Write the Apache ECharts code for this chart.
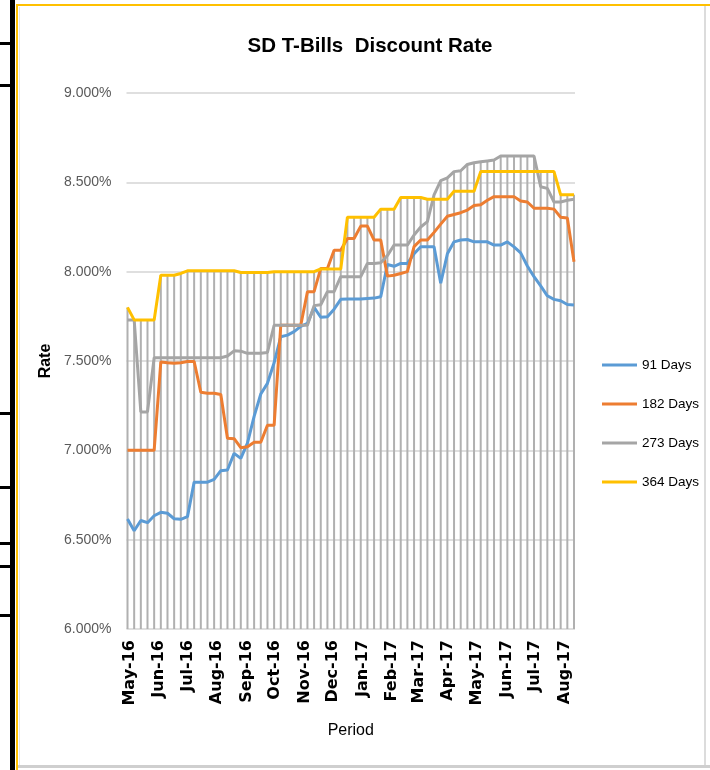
<!DOCTYPE html>
<html>
<head>
<meta charset="utf-8">
<script src="https://cdn.jsdelivr.net/npm/echarts@6/dist/echarts.min.js"></script>
<style>
html,body{margin:0;padding:0;background:#fff;}
#chart{width:710px;height:770px;}
</style>
</head>
<body>
<div id="chart"></div>
<script>
const dates = [
'2016-04-29','2016-05-06','2016-05-13','2016-05-20','2016-05-27','2016-06-03','2016-06-10','2016-06-17','2016-06-24',
'2016-07-01','2016-07-08','2016-07-15','2016-07-22','2016-07-29','2016-08-05','2016-08-12','2016-08-19','2016-08-26',
'2016-09-02','2016-09-09','2016-09-16','2016-09-23','2016-09-30','2016-10-07','2016-10-14','2016-10-21','2016-10-28',
'2016-11-04','2016-11-11','2016-11-18','2016-11-25','2016-12-02','2016-12-09','2016-12-16','2016-12-23','2016-12-30',
'2017-01-06','2017-01-13','2017-01-20','2017-01-27','2017-02-03','2017-02-10','2017-02-17','2017-02-24',
'2017-03-03','2017-03-10','2017-03-17','2017-03-24','2017-03-31','2017-04-07','2017-04-14','2017-04-21','2017-04-28',
'2017-05-05','2017-05-12','2017-05-19','2017-05-26','2017-06-02','2017-06-09','2017-06-16','2017-06-23','2017-06-30',
'2017-07-07','2017-07-14','2017-07-21','2017-07-28','2017-08-04','2017-08-11'
];
const days91 = [
6.615,6.55,6.607,6.595,6.634,6.653,6.648,6.617,6.614,6.629,
6.822,6.822,6.822,6.837,6.886,6.89,6.983,6.955,7.04,7.19,
7.315,7.375,7.49,7.636,7.645,7.664,7.694,7.71,7.80,7.745,
7.748,7.79,7.845,7.847,7.847,7.847,7.85,7.852,7.86,8.04,
8.03,8.046,8.046,8.10,8.14,8.14,8.14,7.935,8.10,8.167,
8.177,8.18,8.167,8.167,8.167,8.149,8.149,8.167,8.139,8.105,
8.032,7.972,7.92,7.865,7.845,7.837,7.816,7.813
];
const days182 = [
7.0,7.0,7.0,7.0,7.0,7.495,7.49,7.488,7.49,7.497,
7.497,7.325,7.32,7.32,7.312,7.068,7.065,7.015,7.02,7.045,
7.045,7.14,7.14,7.70,7.70,7.70,7.70,7.888,7.888,8.018,
8.018,8.12,8.12,8.186,8.186,8.255,8.255,8.177,8.177,7.975,
7.98,7.99,8.0,8.14,8.177,8.177,8.22,8.266,8.31,8.32,
8.33,8.345,8.37,8.375,8.40,8.42,8.42,8.42,8.42,8.395,
8.39,8.355,8.355,8.355,8.35,8.305,8.30,8.055
];
const days273 = [
7.73,7.73,7.215,7.215,7.518,7.518,7.518,7.518,7.518,7.518,
7.518,7.518,7.518,7.518,7.518,7.528,7.557,7.555,7.543,7.543,
7.543,7.548,7.70,7.70,7.70,7.70,7.70,7.70,7.81,7.815,
7.888,7.888,7.972,7.972,7.972,7.972,8.046,8.046,8.05,8.09,
8.149,8.149,8.149,8.205,8.25,8.28,8.43,8.51,8.525,8.56,
8.565,8.60,8.61,8.615,8.62,8.625,8.647,8.647,8.647,8.647,
8.647,8.647,8.475,8.466,8.39,8.39,8.40,8.405
];
const days364 = [
7.80,7.73,7.73,7.73,7.73,7.98,7.98,7.98,7.99,8.005,
8.005,8.005,8.005,8.005,8.005,8.005,8.005,7.995,7.995,7.995,
7.995,7.995,8.00,8.00,8.00,8.00,8.00,8.00,8.00,8.015,
8.015,8.015,8.015,8.305,8.305,8.305,8.305,8.305,8.35,8.35,
8.35,8.415,8.415,8.415,8.415,8.405,8.405,8.405,8.405,8.45,
8.45,8.45,8.45,8.56,8.56,8.56,8.56,8.56,8.56,8.56,
8.56,8.56,8.56,8.56,8.56,8.43,8.43,8.43
];
const seriesNames = ['91 Days','182 Days','273 Days','364 Days'];
const monthNames = ['Jan','Feb','Mar','Apr','May','Jun','Jul','Aug','Sep','Oct','Nov','Dec'];
const yTicks = {min: 6, max: 9, step: 0.5};

const allSeries = [days91, days182, days273, days364];
const pairs = arr => dates.map((d, i) => [d, arr[i]]);
const dropTops = dates.map((d, i) => [d, Math.max(...allSeries.map(s => s[i]))]);

const SANS = '"Liberation Sans Narrow", "Liberation Sans", sans-serif';
const colors = ['#5b9bd5', '#ed7d31', '#a5a5a5', '#ffc000'];

const chart = echarts.init(document.getElementById('chart'), null, {renderer: 'canvas'});
chart.setOption({
  animation: false,
  backgroundColor: '#ffffff',
  title: {
    text: 'SD T-Bills  Discount Rate',
    left: 365, top: 31, textAlign: 'center',
    textStyle: {fontFamily: SANS, fontSize: 20.5, fontWeight: 'bold', color: '#000'}
  },
  legend: {
    data: seriesNames,
    orient: 'vertical',
    left: 597, top: 352,
    icon: 'rect',
    itemWidth: 35, itemHeight: 3,
    itemGap: 23,
    textStyle: {fontFamily: SANS, fontSize: 13.5, lineHeight: 16, color: '#000'}
  },
  grid: {left: 126.5, top: 93, width: 448.5, height: 536, containLabel: false},
  xAxis: {
    type: 'time',
    min: dates[0], max: dates[dates.length - 1],
    splitNumber: 16,
    minInterval: 28 * 86400000,
    maxInterval: 31 * 86400000,
    name: 'Period', nameLocation: 'middle', nameGap: 94,
    nameTextStyle: {fontFamily: SANS, fontSize: 16, color: '#000'},
    axisLine: {show: false}, axisTick: {show: false},
    splitLine: {show: false},
    axisLabel: {
      rotate: 90, margin: 11,
      fontFamily: 'DejaVu Sans', fontWeight: 'bold', fontSize: 16, color: '#000',
      formatter: v => { const d = new Date(v); return monthNames[d.getMonth()] + '-' + String(d.getFullYear()).slice(2); }
    }
  },
  yAxis: {
    type: 'value', min: yTicks.min, max: yTicks.max, interval: yTicks.step,
    name: 'Rate', nameLocation: 'middle', nameGap: 61,
    nameTextStyle: {fontFamily: SANS, fontSize: 16, fontWeight: 'bold', color: '#000'},
    axisLine: {show: false}, axisTick: {show: false},
    splitLine: {lineStyle: {color: '#d4d4d4', width: 1.5}},
    axisLabel: {
      margin: 15, fontFamily: SANS, fontSize: 14, color: '#595959',
      formatter: v => v.toFixed(3) + '%'
    }
  },
  series: [
    {type: 'bar', name: 'drop', data: dropTops, barWidth: 2, itemStyle: {color: '#b0b0b0'}, silent: true, clip: true, z: 1},
    ...seriesNames.map((n, k) => ({
      type: 'line', name: n, data: pairs(allSeries[k]),
      showSymbol: false, symbol: 'none',
      lineStyle: {color: colors[k], width: 3}, itemStyle: {color: colors[k]},
      z: 3 + k
    }))
  ],
  graphic: [
    {type: 'rect', shape: {x: 10, y: 0, width: 5, height: 770}, style: {fill: '#000'}},
    {type: 'rect', shape: {x: 0, y: 42, width: 12, height: 3}, style: {fill: '#000'}},
    {type: 'rect', shape: {x: 0, y: 84, width: 12, height: 3}, style: {fill: '#000'}},
    {type: 'rect', shape: {x: 0, y: 412, width: 12, height: 3}, style: {fill: '#000'}},
    {type: 'rect', shape: {x: 0, y: 486, width: 12, height: 3}, style: {fill: '#000'}},
    {type: 'rect', shape: {x: 0, y: 542, width: 12, height: 3}, style: {fill: '#000'}},
    {type: 'rect', shape: {x: 0, y: 565, width: 12, height: 3}, style: {fill: '#000'}},
    {type: 'rect', shape: {x: 0, y: 614, width: 12, height: 3}, style: {fill: '#000'}},
    {type: 'rect', shape: {x: 16, y: 4, width: 2, height: 766}, style: {fill: '#ffc000'}},
    {type: 'rect', shape: {x: 16, y: 4, width: 694, height: 2}, style: {fill: '#ffc000'}},
    {type: 'rect', shape: {x: 19, y: 7, width: 1, height: 760}, style: {fill: '#e6e6e6'}},
    {type: 'rect', shape: {x: 704, y: 6, width: 2, height: 762}, style: {fill: '#dcdcdc'}},
    {type: 'rect', shape: {x: 18, y: 765, width: 692, height: 3}, style: {fill: '#cfcfcf'}}
  ]
});
</script>
</body>
</html>
